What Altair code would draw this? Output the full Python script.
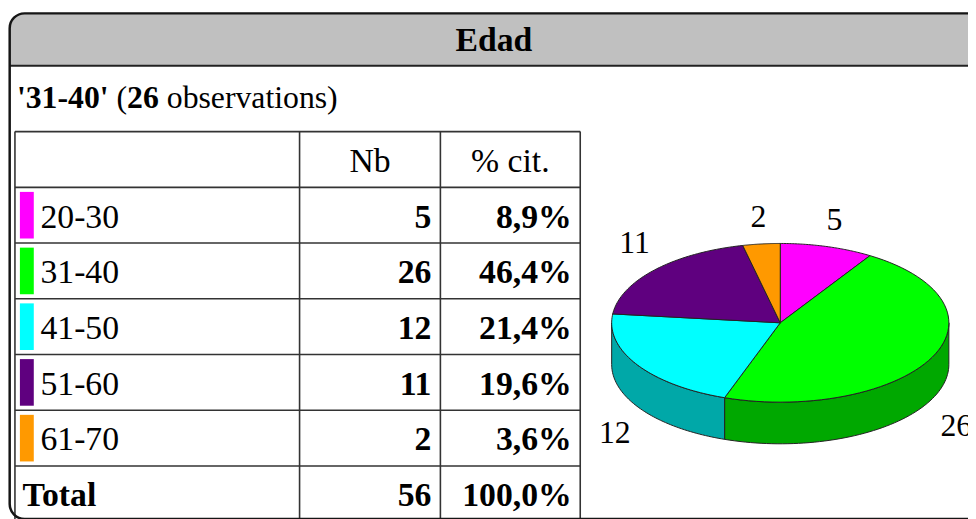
import altair as alt
import pandas as pd

# ---------------- data ----------------
categories = ["20-30", "31-40", "41-50", "51-60", "61-70"]
counts = [5, 26, 12, 11, 2]
colors = ["#FF00FF", "#00FF00", "#00FFFF", "#5F007F", "#FF9900"]
side_colors = ["#A800A8", "#00A800", "#00A8A8", "#3F0055", "#A86500"]
title_text = "Edad"
col_headers = ["Nb", "% cit."]
total_label = "Total"

total = sum(counts)


def fmt_pct(v):
    return f"{v:.1f}".replace(".", ",") + "%"


pcts = [fmt_pct(100 * c / total) for c in counts]
mode_idx = counts.index(max(counts))
mode_cat = categories[mode_idx]
mode_n = counts[mode_idx]

# ---------------- style / layout ----------------
FONT = "'Liberation Serif', 'Times New Roman', Times, serif"
FS = 34          # table text
FS_SUB = 32      # subtitle
FS_TITLE = 34
FS_PIE = 32
LINE = "#333333"

ROW_TOP = 122.5
ROW_H = 56.2
row_keys = ["hdr"] + categories + [total_label]
yrow = alt.Scale(domain=row_keys, range=[ROW_TOP, ROW_TOP + ROW_H * len(row_keys)],
                 paddingInner=0, paddingOuter=0)
TXT_DY = 12.4

CX, CY, RX, RY, DEPTH = 778.7, 315.3, 170, 80, 42
xs = alt.Scale(domain=[-1, 1], range=[CX - RX, CX + RX], nice=False, zero=False)
ys = alt.Scale(domain=[-1, 1], range=[CY + RY, CY - RY], nice=False, zero=False)
D = DEPTH / RY

one = pd.DataFrame({"t": [title_text]})


def yt():
    return alt.Y("row:N", scale=yrow, axis=None)


# ---------------- frame ----------------
box_fill = alt.Chart(one).mark_rect(fill="white", cornerRadius=15).encode(
    x=alt.value(1.7), x2=alt.value(1100), y=alt.value(3.3), y2=alt.value(513))
header = alt.Chart(one).mark_rect(fill="#C0C0C0", cornerRadiusTopLeft=15,
                                  cornerRadiusTopRight=15).encode(
    x=alt.value(1.7), x2=alt.value(1100), y=alt.value(3.3), y2=alt.value(56))
header_line = alt.Chart(one).mark_rule(stroke="#222222", strokeWidth=2).encode(
    x=alt.value(1.7), x2=alt.value(1100), y=alt.value(56))
box_border = alt.Chart(one).mark_rect(fill="transparent", stroke="#151515", strokeWidth=2.5,
                                      cornerRadius=15).encode(
    x=alt.value(1.7), x2=alt.value(1100), y=alt.value(3.3), y2=alt.value(513))
title = alt.Chart(one).mark_text(font=FONT, fontSize=FS_TITLE, fontWeight="bold", align="center",
                                 baseline="alphabetic", color="black").encode(
    x=alt.value(490), y=alt.value(41.3), text="t:N")

# ---------------- subtitle (mixed bold / regular) ----------------
REG = {" ": 250, "(": 333, ")": 333, "-": 333, "'": 180, "a": 444, "b": 500, "e": 444,
       "i": 278, "n": 500, "o": 500, "r": 333, "s": 389, "t": 278, "v": 500}
BOLD = {" ": 250, "(": 333, ")": 333, "-": 333, "'": 278}


def tw(s, bold=False):
    m = BOLD if bold else REG
    return sum(m.get(ch, 500) for ch in s) / 1000 * FS_SUB


segA = f"'{mode_cat}'"
segB = "("
segC = str(mode_n)
segD = "observations)"
x0 = 9
xA = x0
xB = xA + tw(segA, True) + tw(" ")
xC = xB + tw(segB)
xD = xC + tw(segC, True) + tw(" ")
SUB_Y = 98.7
sub_layers = []
for txt, xv, bold in [(segA, xA, True), (segB, xB, False), (segC, xC, True), (segD, xD, False)]:
    sub_layers.append(
        alt.Chart(pd.DataFrame({"t": [txt]})).mark_text(
            font=FONT, fontSize=FS_SUB, fontWeight="bold" if bold else "normal", align="left",
            baseline="alphabetic", color="black").encode(
            x=alt.value(xv), y=alt.value(SUB_Y), text="t:N"))

# ---------------- table ----------------
table = pd.DataFrame({"row": categories, "label": categories,
                      "nb": [str(c) for c in counts], "pct": pcts})
totals = pd.DataFrame({"row": [total_label], "label": [total_label],
                       "nb": [str(total)], "pct": [fmt_pct(100)]})
nums = pd.concat([table, totals], ignore_index=True)
hdr = pd.DataFrame({"row": ["hdr", "hdr"], "text": col_headers, "col": ["nb", "pct"]})
rows_df = pd.DataFrame({"row": row_keys})

hrules = alt.Chart(rows_df).mark_rule(stroke=LINE, strokeWidth=1.6).encode(
    y=alt.Y("row:N", scale=yrow, bandPosition=0, axis=None),
    x=alt.value(7), x2=alt.value(577))
vrules = [alt.Chart(one).mark_rule(stroke=LINE, strokeWidth=1.6).encode(
    x=alt.value(xv), y=alt.value(ROW_TOP), y2=alt.value(530)) for xv in [7, 294, 436, 577]]

swatches = alt.Chart(table).mark_rect(height=47).encode(
    x=alt.value(12), x2=alt.value(26), y=yt(),
    color=alt.Color("label:N", scale=alt.Scale(domain=categories, range=colors), legend=None))

txt_common = dict(font=FONT, fontSize=FS, baseline="alphabetic", dy=TXT_DY, color="black")
labels = alt.Chart(table).mark_text(align="left", **txt_common).encode(
    x=alt.value(32.7), y=yt(), text="label:N")
total_lbl = alt.Chart(totals).mark_text(align="left", fontWeight="bold", **txt_common).encode(
    x=alt.value(14.7), y=yt(), text="label:N")
nb_txt = alt.Chart(nums).mark_text(align="right", fontWeight="bold", **txt_common).encode(
    x=alt.value(427), y=yt(), text="nb:N")
pct_txt = alt.Chart(nums).mark_text(align="right", fontWeight="bold", **txt_common).encode(
    x=alt.value(568.5), y=yt(), text="pct:N")
hdr_txt = alt.Chart(hdr).mark_text(align="center", **txt_common).encode(
    x=alt.X("col:N", scale=alt.Scale(type="point", domain=["nb", "pct"], range=[365, 506.5],
                                     padding=0), axis=None),
    y=yt(), text="text:N")

# ---------------- 3D pie ----------------
pie_df = pd.DataFrame({"cat": categories, "count": counts})
base = (alt.Chart(pie_df)
        .transform_window(cum="sum(count)", sort=[alt.SortField("cat")], frame=[None, 0])
        .transform_joinaggregate(total="sum(count)")
        .transform_calculate(a0="2*PI*(datum.cum-datum.count)/datum.total")
        .transform_calculate(a1="2*PI*datum.cum/datum.total"))

side = (base
        .transform_calculate(s0="max(datum.a0, PI/2)")
        .transform_calculate(s1="min(datum.a1, 3*PI/2)")
        .transform_filter("datum.s1 > datum.s0")
        .transform_calculate(ks="sequence(0, 122)")
        .transform_flatten(["ks"], as_=["k"])
        .transform_calculate(tt="datum.k <= 60 ? datum.k/60 : (121-datum.k)/60")
        .transform_calculate(ang="datum.s0 + (datum.s1-datum.s0)*datum.tt")
        .transform_calculate(px="sin(datum.ang)")
        .transform_calculate(py=f"cos(datum.ang) - (datum.k > 60 ? {D} : 0)")
        .mark_line(interpolate="linear-closed", stroke="#222222", strokeWidth=1)
        .encode(x=alt.X("px:Q", scale=xs, axis=None),
                y=alt.Y("py:Q", scale=ys, axis=None),
                order=alt.Order("k:Q"),
                detail="cat:N",
                fill=alt.Fill("cat:N", scale=alt.Scale(domain=categories, range=side_colors),
                              legend=None)))

top = (base
       .transform_calculate(ks="sequence(0, 62)")
       .transform_flatten(["ks"], as_=["k"])
       .transform_calculate(ang="datum.a0 + (datum.a1-datum.a0)*min(datum.k, 60)/60")
       .transform_calculate(px="datum.k > 60 ? 0 : sin(datum.ang)")
       .transform_calculate(py="datum.k > 60 ? 0 : cos(datum.ang)")
       .mark_line(interpolate="linear-closed", stroke="#222222", strokeWidth=1)
       .encode(x=alt.X("px:Q", scale=xs, axis=None),
               y=alt.Y("py:Q", scale=ys, axis=None),
               order=alt.Order("k:Q"),
               detail="cat:N",
               fill=alt.Fill("cat:N", scale=alt.Scale(domain=categories, range=colors),
                             legend=None)))

pie_labels = (base
              .transform_calculate(mid="(datum.a0+datum.a1)/2")
              .transform_calculate(lx="1.159*sin(datum.mid)")
              .transform_calculate(ly="cos(datum.mid) + (cos(datum.mid) < 0 ? -0.8625 : 0.3375)")
              .mark_text(font=FONT, fontSize=FS_PIE, baseline="middle", align="center",
                         color="black")
              .encode(x=alt.X("lx:Q", scale=xs, axis=None),
                      y=alt.Y("ly:Q", scale=ys, axis=None),
                      text="count:Q"))

chart = alt.layer(
    box_fill, header, header_line, title, *sub_layers,
    hrules, *vrules, swatches, labels, total_lbl, nb_txt, pct_txt, hdr_txt,
    side, top, pie_labels, box_border,
).resolve_scale(
    x="independent", y="independent", fill="independent", color="independent"
).properties(
    width=968, height=511, padding=0, autosize="none", background="white"
).configure_view(strokeWidth=0)

chart.save("out.html", embed_options={"renderer": "svg", "actions": False})
